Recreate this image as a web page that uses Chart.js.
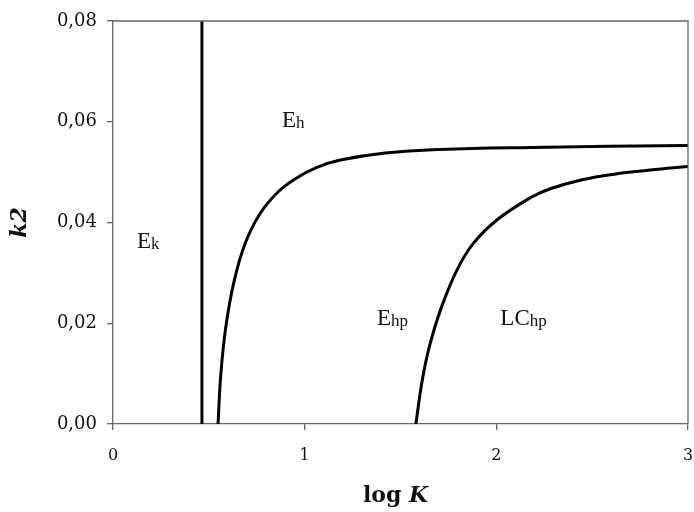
<!DOCTYPE html>
<html>
<head>
<meta charset="utf-8">
<script src="https://cdn.jsdelivr.net/npm/chart.js@4/dist/chart.umd.min.js"></script>
<style>
  html, body { margin: 0; padding: 0; background: #fff; }
  #wrap { width: 694px; height: 512px; }
</style>
</head>
<body>
<div id="wrap"><canvas id="chart" width="694" height="512"></canvas></div>
<script>
// phase boundaries in the (log K, k2) plane
var kBoundary = [
    [0.464, 0], [0.464, 0.08]
];
var hBoundary = [
    [0.548, 0], [0.562, 0.0096], [0.588, 0.0191], [0.631, 0.0282], [0.688, 0.0357],
    [0.766, 0.0417], [0.862, 0.0461], [0.956, 0.0488], [1.061, 0.0509], [1.186, 0.0524],
    [1.421, 0.0538], [1.707, 0.0545], [2.177, 0.0549], [3.0, 0.0553]
];
var lcBoundary = [
    [1.580, 0], [1.614, 0.0088], [1.653, 0.0157], [1.713, 0.0231], [1.795, 0.0306],
    [1.881, 0.0359], [2.003, 0.0405], [2.177, 0.0449], [2.281, 0.0467], [2.448, 0.0485],
    [2.615, 0.0496], [2.803, 0.0504], [3.0, 0.0511]
];
// region names: main letter, subscript, position (log K, k2) of the baseline start
var regionNames = [
    ["E", "k", 0.125, 0.0349],
    ["E", "h", 0.882, 0.0590],
    ["E", "hp", 1.377, 0.0197],
    ["LC", "hp", 2.021, 0.0197]
];
var xTicks = [0, 1, 2, 3];
var yTicks = [0, 0.02, 0.04, 0.06, 0.08];

var axisColor = "#666";
var serif = "'DejaVu Serif', 'Liberation Serif', serif";

var toPoints = function (arr) {
    return arr.map(function (p) { return { x: p[0], y: p[1] }; });
};
var lineSet = function (arr) {
    return {
        data: toPoints(arr),
        showLine: true,
        borderColor: "#000",
        borderWidth: 3,
        pointRadius: 0,
        fill: false,
        tension: 0.4
    };
};

var frameAndText = {
    id: "frameAndText",
    afterDatasetsDraw: function (chart) {
        var ctx = chart.ctx;
        var a = chart.chartArea;
        var xs = chart.scales.x, ys = chart.scales.y;
        ctx.save();
        // top and right edges of the plot box
        ctx.strokeStyle = axisColor;
        ctx.lineWidth = 1.3;
        ctx.beginPath();
        ctx.moveTo(a.left, a.top);
        ctx.lineTo(a.right, a.top);
        ctx.lineTo(a.right, a.bottom);
        ctx.stroke();

        ctx.fillStyle = "#111";
        ctx.textBaseline = "alphabetic";
        ctx.textAlign = "left";
        regionNames.forEach(function (r) {
            var px = xs.getPixelForValue(r[2]);
            var py = ys.getPixelForValue(r[3]);
            ctx.font = "23px 'Liberation Serif', serif";
            ctx.fillText(r[0], px, py);
            var w = ctx.measureText(r[0]).width;
            ctx.font = "17px 'Liberation Serif', serif";
            ctx.fillText(r[1], px + w, py + 1);
        });

        // x axis title: "log" upright, K italic
        ctx.font = "bold 22px " + serif;
        var t1 = "log ";
        var w1 = ctx.measureText(t1).width;
        ctx.font = "bold italic 22px " + serif;
        var w2 = ctx.measureText("K").width;
        var x0 = (a.left + a.right) / 2 - 5 - (w1 + w2) / 2;
        ctx.font = "bold 22px " + serif;
        ctx.fillText(t1, x0, 502);
        ctx.font = "bold italic 22px " + serif;
        ctx.fillText("K", x0 + w1, 502);
        ctx.restore();
    }
};

var ctx = document.getElementById("chart");
var chart = new Chart(ctx, {
    type: "scatter",
    data: {
        datasets: [lineSet(kBoundary), lineSet(hBoundary), lineSet(lcBoundary)]
    },
    options: {
        responsive: false,
        animation: false,
        events: [],
        layout: { padding: { left: 0, top: 21, right: 6, bottom: 0 } },
        plugins: {
            legend: { display: false },
            tooltip: { enabled: false }
        },
        scales: {
            x: {
                type: "linear",
                min: 0,
                max: 3,
                afterFit: function (scale) {
                    scale.height = 88;
                    scale.paddingLeft = 0;
                    scale.paddingRight = 0;
                },
                afterBuildTicks: function (scale) {
                    scale.ticks = xTicks.map(function (v) { return { value: v }; });
                },
                border: { color: axisColor, width: 1.3 },
                grid: { drawOnChartArea: false, tickLength: 6, color: axisColor, lineWidth: 1.3 },
                ticks: {
                    color: "#111",
                    padding: 16,
                    font: { family: serif, size: 16 },
                    callback: function (v) { return String(v); }
                }
            },
            y: {
                type: "linear",
                min: 0,
                max: 0.08,
                afterFit: function (scale) {
                    scale.width = 113;
                    scale.paddingTop = 0;
                    scale.paddingBottom = 0;
                },
                afterBuildTicks: function (scale) {
                    scale.ticks = yTicks.map(function (v) { return { value: v }; });
                },
                border: { color: axisColor, width: 1.3 },
                grid: { drawOnChartArea: false, tickLength: 6, color: axisColor, lineWidth: 1.3 },
                ticks: {
                    color: "#111",
                    padding: 10,
                    font: { family: serif, size: 18 },
                    callback: function (v) { return v.toFixed(2).replace(".", ","); }
                },
                title: {
                    display: true,
                    text: "k2",
                    color: "#111",
                    padding: { top: 7, bottom: 0 },
                    font: { family: serif, size: 22, weight: "bold", style: "italic" }
                }
            }
        }
    },
    plugins: [frameAndText]
});
</script>
</body>
</html>
